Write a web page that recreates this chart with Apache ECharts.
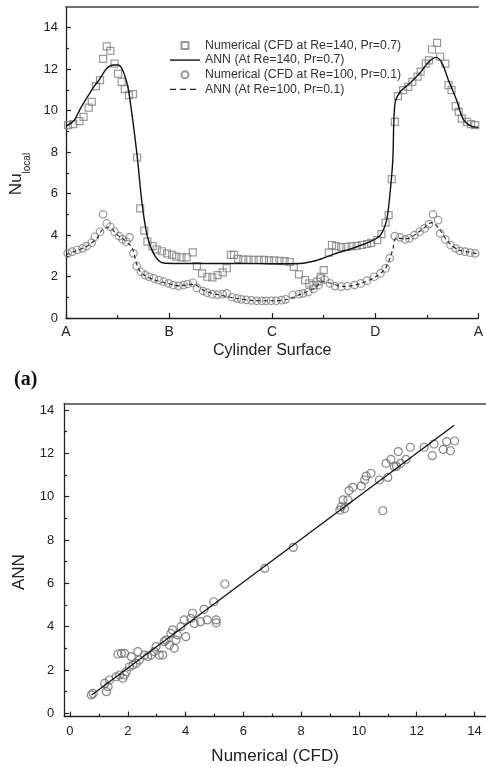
<!DOCTYPE html>
<html>
<head>
<meta charset="utf-8">
<script src="https://cdn.jsdelivr.net/npm/echarts@6/dist/echarts.min.js"></script>
<style>
  html, body { margin: 0; padding: 0; background: #fff; }
  #chart { width: 486px; height: 767px; }
</style>
</head>
<body>
<div id="chart"></div>
<script>
// (a) local Nusselt number along cylinder surface, x: A=0, B=1, C=2, D=3, A=4
const surfaceLabels = ['A', 'B', 'C', 'D', 'A'];
const surfaceTicks = [0, 1, 2, 3, 4];
const surfaceMinor = [0.5, 1.5, 2.5, 3.5];
const nuTicks = [0, 2, 4, 6, 8, 10, 12, 14];
const nuMinor = [1, 3, 5, 7, 9, 11, 13];

const cfdRe140 = [
  [0.02, 9.3], [0.07, 9.35], [0.13, 9.5], [0.17, 9.7], [0.22, 10.15], [0.25, 10.42],
  [0.29, 11.18], [0.33, 11.47], [0.36, 12.5], [0.395, 13.1], [0.43, 12.88], [0.47, 12.27],
  [0.505, 11.79], [0.54, 11.39], [0.57, 11.04], [0.61, 10.75], [0.65, 10.8], [0.69, 7.74],
  [0.72, 5.29], [0.76, 4.21], [0.79, 3.68], [0.84, 3.47], [0.88, 3.31], [0.93, 3.22],
  [0.98, 3.12], [1.03, 3.04], [1.07, 2.96], [1.12, 2.92], [1.17, 2.92], [1.23, 3.17],
  [1.27, 2.5], [1.32, 2.15], [1.37, 1.99], [1.42, 1.96], [1.47, 2.07], [1.52, 2.2],
  [1.56, 2.4], [1.6, 3.04], [1.63, 3.04], [1.67, 2.85], [1.72, 2.82], [1.77, 2.82],
  [1.82, 2.8], [1.87, 2.8], [1.92, 2.8], [1.97, 2.78], [2.02, 2.78], [2.07, 2.76],
  [2.12, 2.74], [2.17, 2.7], [2.21, 2.47], [2.26, 2.1], [2.32, 1.83], [2.36, 1.67],
  [2.4, 1.59], [2.44, 1.75], [2.47, 1.99], [2.5, 2.31], [2.55, 3.15], [2.58, 3.52],
  [2.62, 3.47], [2.67, 3.42], [2.72, 3.43], [2.77, 3.45], [2.82, 3.48], [2.87, 3.52],
  [2.92, 3.57], [2.96, 3.62], [3.02, 3.76], [3.06, 4.05], [3.1, 4.6], [3.13, 4.96],
  [3.16, 6.7], [3.19, 9.46], [3.22, 10.7], [3.27, 10.99], [3.32, 11.15], [3.36, 11.39],
  [3.41, 11.64], [3.44, 11.88], [3.49, 12.27], [3.52, 12.43], [3.55, 12.95], [3.6, 13.27],
  [3.63, 12.6], [3.68, 12.27], [3.71, 11.23], [3.74, 10.99], [3.78, 10.22], [3.81, 9.94],
  [3.84, 9.62], [3.89, 9.46], [3.93, 9.35], [3.97, 9.3]
];

const annRe140 = [
  [0.0, 9.25], [0.08, 9.54], [0.14, 10.1], [0.2, 10.6], [0.27, 11.15], [0.33, 11.55],
  [0.395, 12.03], [0.46, 12.2], [0.505, 12.2], [0.55, 11.95], [0.6, 11.15], [0.63, 10.18],
  [0.66, 9.06], [0.695, 7.6], [0.73, 5.85], [0.76, 4.72], [0.79, 3.92], [0.84, 3.2],
  [0.9, 2.76], [0.96, 2.64], [1.2, 2.63], [1.6, 2.63], [2.0, 2.62], [2.23, 2.62],
  [2.42, 2.76], [2.6, 3.08], [2.8, 3.4], [2.95, 3.68], [3.05, 4.0], [3.11, 4.72],
  [3.14, 5.85], [3.17, 7.6], [3.19, 10.3], [3.24, 10.9], [3.33, 11.3], [3.43, 11.8],
  [3.52, 12.36], [3.59, 12.57], [3.65, 12.27], [3.71, 11.47], [3.79, 10.5], [3.85, 9.62],
  [3.93, 9.25], [4.0, 9.2]
];

const cfdRe100 = [
  [0.016, 3.12], [0.06, 3.2], [0.11, 3.28], [0.16, 3.36], [0.2, 3.47], [0.25, 3.63],
  [0.28, 3.92], [0.33, 4.16], [0.36, 5.0], [0.395, 4.56], [0.43, 4.4], [0.47, 4.16],
  [0.515, 3.95], [0.55, 3.79], [0.585, 3.68], [0.616, 3.89], [0.654, 3.12], [0.686, 2.5],
  [0.727, 2.23], [0.768, 2.07], [0.806, 1.99], [0.853, 1.91], [0.9, 1.83], [0.948, 1.75],
  [0.995, 1.67], [1.04, 1.59], [1.09, 1.55], [1.14, 1.59], [1.18, 1.64], [1.23, 1.7],
  [1.27, 1.45], [1.33, 1.3], [1.37, 1.22], [1.42, 1.15], [1.47, 1.13], [1.52, 1.15],
  [1.56, 1.19], [1.61, 1.0], [1.66, 0.95], [1.7, 0.9], [1.75, 0.87], [1.8, 0.85],
  [1.85, 0.83], [1.9, 0.83], [1.94, 0.83], [1.99, 0.83], [2.04, 0.83], [2.09, 0.86],
  [2.13, 0.9], [2.2, 1.11], [2.26, 1.15], [2.3, 1.19], [2.35, 1.25], [2.4, 1.4],
  [2.45, 1.59], [2.47, 1.91], [2.51, 1.85], [2.56, 1.67], [2.61, 1.54], [2.67, 1.51],
  [2.73, 1.54], [2.8, 1.59], [2.86, 1.67], [2.92, 1.8], [2.99, 1.99], [3.05, 2.15],
  [3.1, 2.39], [3.14, 2.88], [3.19, 3.95], [3.24, 3.89], [3.29, 3.79], [3.33, 3.84],
  [3.38, 4.0], [3.43, 4.16], [3.48, 4.32], [3.52, 4.53], [3.56, 5.0], [3.61, 4.72],
  [3.63, 4.08], [3.68, 3.79], [3.73, 3.52], [3.78, 3.36], [3.82, 3.24], [3.87, 3.2],
  [3.92, 3.15], [3.97, 3.12]
];

const annRe100 = [
  [0.0, 3.05], [0.1, 3.25], [0.2, 3.45], [0.3, 3.85], [0.36, 4.3], [0.42, 4.35],
  [0.5, 4.0], [0.58, 3.7], [0.64, 3.4], [0.67, 2.9], [0.7, 2.4], [0.75, 2.1],
  [0.85, 1.85], [1.0, 1.65], [1.1, 1.55], [1.2, 1.62], [1.25, 1.6], [1.35, 1.3],
  [1.5, 1.1], [1.65, 0.95], [1.8, 0.85], [2.0, 0.83], [2.15, 0.9], [2.3, 1.2],
  [2.42, 1.45], [2.48, 1.75], [2.55, 1.7], [2.7, 1.52], [2.85, 1.65], [3.0, 1.98],
  [3.1, 2.4], [3.17, 3.3], [3.2, 3.85], [3.3, 3.82], [3.45, 4.25], [3.55, 4.6],
  [3.62, 4.3], [3.7, 3.7], [3.8, 3.3], [3.9, 3.18], [4.0, 3.1]
];

// (b) ANN vs numerical (CFD)
const parityTicks = [0, 2, 4, 6, 8, 10, 12, 14];
const parityMinor = [1, 3, 5, 7, 9, 11, 13];
const parityPoints = [
  [0.74, 0.85], [0.8, 0.92], [1.2, 1.38], [1.26, 1.0], [1.32, 1.23], [1.37, 1.54],
  [1.6, 1.69], [1.72, 1.77], [1.83, 1.62], [1.89, 1.77], [1.66, 2.74], [1.78, 2.77],
  [1.89, 2.77], [2.12, 2.62], [2.35, 2.85], [2.18, 2.23], [2.4, 2.46], [2.58, 2.69],
  [2.81, 2.69], [2.98, 3.08], [3.09, 2.69], [3.21, 2.69], [3.26, 3.31], [3.44, 3.15],
  [3.49, 3.69], [3.61, 3.0], [3.67, 3.38], [3.55, 3.85], [3.84, 4.0], [3.95, 4.31],
  [4.01, 3.54], [4.18, 4.38], [4.24, 4.62], [4.3, 4.15], [4.52, 4.23], [4.64, 4.8],
  [4.75, 4.31], [4.98, 5.15], [5.06, 4.31], [5.06, 4.18], [5.36, 5.97], [6.74, 6.69],
  [7.73, 7.66], [1.95, 1.92], [2.06, 2.15], [2.29, 2.31], [2.69, 2.62], [2.92, 2.85],
  [3.32, 3.38], [3.72, 3.62],
  [9.34, 9.38], [9.39, 9.54], [9.45, 9.85], [9.62, 9.85], [9.66, 10.28], [9.79, 10.43],
  [10.08, 10.49], [10.2, 10.77], [10.25, 10.95], [10.42, 11.08], [10.71, 10.77], [10.83, 9.35],
  [10.94, 11.54], [11.0, 10.89], [11.11, 11.72], [11.23, 11.38], [11.36, 12.08], [11.45, 11.54],
  [11.63, 11.72], [11.78, 12.28], [12.26, 12.28], [12.54, 11.89], [12.6, 12.43], [12.92, 12.18],
  [13.04, 12.54], [13.17, 12.12], [13.31, 12.57], [9.5, 9.45], [11.3, 11.4]
];
const parityFit = [[0.75, 0.85], [13.3, 13.3]];

const font = 'Liberation Sans, Arial, sans-serif';
const ink = '#222';
const markerGray = '#808080';

const chart = echarts.init(document.getElementById('chart'));

function mainAxis(gridIndex, position, min, max, ticks, extra) {
  return Object.assign({
    type: 'value', gridIndex, position, min, max,
    axisLine: { show: true, onZero: false, lineStyle: { color: ink, width: 1.3 } },
    axisTick: { show: true, inside: true, length: 5, customValues: ticks, lineStyle: { color: ink, width: 1.2 } },
    axisLabel: { show: true, customValues: ticks, color: ink, fontFamily: font, fontSize: 13, margin: 8, showMaxLabel: true, showMinLabel: true },
    splitLine: { show: false }
  }, extra || {});
}
function minorAxis(gridIndex, position, min, max, ticks) {
  return {
    type: 'value', gridIndex, position, min, max,
    axisLine: { show: false, onZero: false },
    axisTick: { show: true, inside: true, length: 3, customValues: ticks, lineStyle: { color: ink, width: 1.2 } },
    axisLabel: { show: false },
    splitLine: { show: false }
  };
}
function frameAxis(gridIndex, position, min, max) {
  return {
    type: 'value', gridIndex, position, min, max,
    axisLine: { show: true, onZero: false, lineStyle: { color: '#444', width: 1.5 } },
    axisTick: { show: false }, axisLabel: { show: false }, splitLine: { show: false }
  };
}

const squareIcon = 'path://M0,0H10V10H0Z';
const solidIcon = 'path://M0,0H30V1.4H0Z';
const dashIcon = 'path://M0,0H6V1.2H0Z M10,0H16V1.2H10Z M20,0H26V1.2H20Z M30,0H30.1V1.2H30Z';

chart.setOption({
  animation: false,
  backgroundColor: '#fff',
  title: {
    text: '(a)', left: 9, top: 365,
    textStyle: { fontFamily: 'Liberation Serif, Times New Roman, serif', fontWeight: 'bold', fontSize: 20, color: '#111' }
  },
  legend: {
    orient: 'vertical', left: 165, top: 34, itemWidth: 30, itemHeight: 7, itemGap: 1.6,
    data: [
      { name: 'Numerical (CFD at Re=140, Pr=0.7)', icon: squareIcon },
      { name: 'ANN (At Re=140, Pr=0.7)', icon: solidIcon, itemStyle: { color: '#111' } },
      { name: 'Numerical (CFD at Re=100, Pr=0.1)', icon: 'circle' },
      { name: 'ANN (At Re=100, Pr=0.1)', icon: dashIcon, itemStyle: { color: '#222' } }
    ],
    textStyle: { fontFamily: font, fontSize: 12.3, color: '#333', lineHeight: 13 }
  },
  grid: [
    { left: 65.5, top: 7, width: 421.5, height: 311 },
    { left: 64.2, top: 403.5, width: 424.9, height: 313.1 }
  ],
  xAxis: [
    mainAxis(0, 'bottom', 0, 4, surfaceTicks, {
      axisLabel: { show: true, customValues: surfaceTicks, color: ink, fontFamily: font, fontSize: 14, margin: 7,
        formatter: v => surfaceLabels[Math.round(v)] },
      name: 'Cylinder Surface', nameLocation: 'middle', nameGap: 25,
      nameTextStyle: { fontFamily: font, fontSize: 16, color: ink }
    }),
    minorAxis(0, 'bottom', 0, 4, surfaceMinor),
    frameAxis(0, 'top', 0, 4),
    mainAxis(1, 'bottom', -0.2, 14.4, parityTicks, {
      name: 'Numerical (CFD)', nameLocation: 'middle', nameGap: 31,
      nameTextStyle: { fontFamily: font, fontSize: 17, color: ink }
    }),
    minorAxis(1, 'bottom', -0.2, 14.4, parityMinor),
    frameAxis(1, 'top', -0.2, 14.4)
  ],
  yAxis: [
    mainAxis(0, 'left', 0, 15, nuTicks, {
      name: '{nu|Nu}{sub|local}', nameLocation: 'middle', nameGap: 34, nameRotate: 90,
      nameTextStyle: {
        color: ink, padding: [0, 23, 0, 0],
        rich: {
          nu: { fontFamily: font, fontSize: 17, color: ink, lineHeight: 24, verticalAlign: 'top' },
          sub: { fontFamily: font, fontSize: 10, color: ink, lineHeight: 10, verticalAlign: 'bottom' }
        }
      }
    }),
    minorAxis(0, 'left', 0, 15, nuMinor),
    mainAxis(1, 'left', -0.15, 14.3, parityTicks, {
      axisLabel: { show: true, customValues: parityTicks, color: ink, fontFamily: font, fontSize: 13, margin: 10 },
      name: 'ANN', nameLocation: 'middle', nameGap: 36, nameRotate: 90,
      nameTextStyle: { fontFamily: font, fontSize: 17, color: ink, padding: [0, 24, 0, 0] }
    }),
    minorAxis(1, 'left', -0.15, 14.3, parityMinor)
  ],
  series: [
    {
      name: 'Numerical (CFD at Re=140, Pr=0.7)', type: 'scatter', xAxisIndex: 0, yAxisIndex: 0,
      data: cfdRe140, symbol: 'rect', symbolSize: 7,
      itemStyle: { color: 'rgba(255,255,255,0)', borderColor: markerGray, borderWidth: 1.2 }
    },
    {
      name: 'ANN (At Re=140, Pr=0.7)', type: 'line', xAxisIndex: 0, yAxisIndex: 0,
      data: annRe140, symbol: 'none', smooth: 0.3, z: 3,
      lineStyle: { color: '#111', width: 1.4 }, itemStyle: { color: '#111' }
    },
    {
      name: 'Numerical (CFD at Re=100, Pr=0.1)', type: 'scatter', xAxisIndex: 0, yAxisIndex: 0,
      data: cfdRe100, symbol: 'circle', symbolSize: 7.5,
      itemStyle: { color: 'rgba(255,255,255,0)', borderColor: markerGray, borderWidth: 1.2 }
    },
    {
      name: 'ANN (At Re=100, Pr=0.1)', type: 'line', xAxisIndex: 0, yAxisIndex: 0,
      data: annRe100, symbol: 'none', smooth: 0.3, z: 3,
      lineStyle: { color: '#222', width: 1.1, type: [4, 3] }, itemStyle: { color: '#222' }
    },
    {
      name: 'parity', type: 'scatter', xAxisIndex: 3, yAxisIndex: 2,
      data: parityPoints, symbol: 'circle', symbolSize: 8,
      itemStyle: { color: 'rgba(255,255,255,0)', borderColor: '#6a6a6a', borderWidth: 1.2 }
    },
    {
      name: 'fit', type: 'line', xAxisIndex: 3, yAxisIndex: 2,
      data: parityFit, symbol: 'none', z: 3,
      lineStyle: { color: '#111', width: 1.3 }
    }
  ]
});
</script>
</body>
</html>
